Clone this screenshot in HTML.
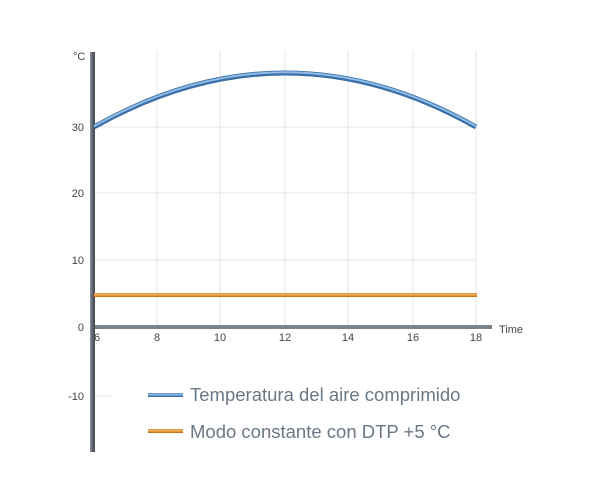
<!DOCTYPE html>
<html><head><meta charset="utf-8"><style>body{margin:0;background:#fff}</style></head><body>
<svg width="600" height="487" xmlns="http://www.w3.org/2000/svg" font-family="Liberation Sans, sans-serif">
<defs>
<linearGradient id="ax" x1="0" x2="1"><stop offset="0" stop-color="#8a9099"/><stop offset="0.5" stop-color="#5f6670"/><stop offset="1" stop-color="#3c4149"/></linearGradient>
</defs>
<g stroke="#e6e6e6" stroke-width="1">
<line x1="157" y1="50" x2="157" y2="327"/><line x1="220" y1="50" x2="220" y2="327"/>
<line x1="285" y1="50" x2="285" y2="327"/><line x1="348" y1="50" x2="348" y2="327"/>
<line x1="413" y1="50" x2="413" y2="327"/><line x1="476" y1="50" x2="476" y2="327"/>
<line x1="93" y1="127" x2="476" y2="127"/><line x1="93" y1="193" x2="476" y2="193"/>
<line x1="93" y1="260" x2="476" y2="260"/><line x1="93" y1="396" x2="113" y2="396"/>
</g>
<line x1="93" y1="327" x2="492" y2="327" stroke="#7d838c" stroke-width="4"/>
<rect x="90" y="52" width="5" height="400" fill="url(#ax)"/>
<line x1="94" y1="295" x2="477" y2="295" stroke="#c8741a" stroke-width="4"/>
<line x1="94" y1="294.5" x2="477" y2="294.5" stroke="#f4b45a" stroke-width="2"/>
<path d="M94 127 Q285 19 476 127" fill="none" stroke="#3a6ea6" stroke-width="5"/>
<path d="M94 126.3 Q285 18.3 476 126.3" fill="none" stroke="#8dbce6" stroke-width="2"/>
<g font-size="11" fill="#444">
<text x="73" y="60">°C</text>
<text x="84" y="131" text-anchor="end">30</text><text x="84" y="197" text-anchor="end">20</text>
<text x="84" y="264" text-anchor="end">10</text><text x="84" y="331" text-anchor="end">0</text>
<text x="84" y="400" text-anchor="end">-10</text>
<text x="97" y="341" text-anchor="middle">6</text><text x="157" y="341" text-anchor="middle">8</text>
<text x="220" y="341" text-anchor="middle">10</text><text x="285" y="341" text-anchor="middle">12</text>
<text x="348" y="341" text-anchor="middle">14</text><text x="413" y="341" text-anchor="middle">16</text>
<text x="476" y="341" text-anchor="middle">18</text>
<text x="499" y="333">Time</text>
</g>
<line x1="148" y1="395" x2="183" y2="395" stroke="#3a6ea6" stroke-width="4"/>
<line x1="148" y1="394.5" x2="183" y2="394.5" stroke="#8dbce6" stroke-width="2"/>
<line x1="148" y1="431" x2="183" y2="431" stroke="#c8741a" stroke-width="4"/>
<line x1="148" y1="430.5" x2="183" y2="430.5" stroke="#f4b45a" stroke-width="2"/>
<g font-size="18.5" fill="#6b7785">
<text x="190" y="401">Temperatura del aire comprimido</text>
<text x="190" y="438">Modo constante con DTP +5 °C</text>
</g>
</svg>
</body></html>
